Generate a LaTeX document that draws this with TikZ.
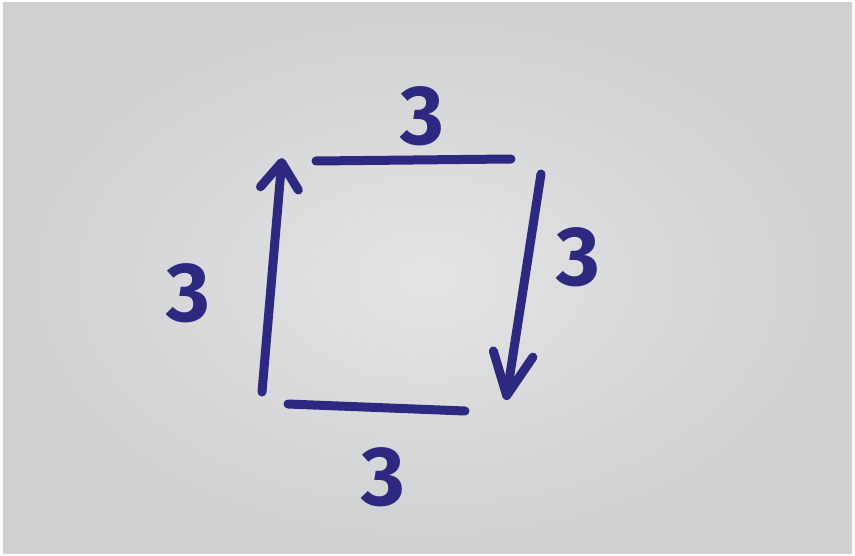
\documentclass[tikz,border=0pt]{standalone}
\usepackage{fontspec}
\setmainfont{Fira Sans}
\usetikzlibrary{arrows.meta}
\definecolor{ink}{HTML}{2D2880}
\definecolor{paperin}{HTML}{E4E4E6}
\definecolor{paperout}{HTML}{CFD0D2}
\tikzset{
  pen/.style={draw=ink, line width=9pt, line cap=round, line join=round},
  arr/.style={pen, -{Straight Barb[length=26pt, width=38pt, round]}},
  bigarr/.style={pen, -{Straight Barb[length=42pt, width=40pt, round]}},
  lbl/.style={text=ink, font=\bfseries\fontsize{84}{84}\selectfont, inner sep=0pt}
}
\begin{document}
\begin{tikzpicture}[x=1pt,y=-1pt]
\useasboundingbox (0,0) rectangle (855,556);
\fill[white] (0,0) rectangle (855,556);
\shade[inner color=paperin, outer color=paperout] (3,3) rectangle (852,553);
% endpoints
\coordinate (lb) at (262,392);
\coordinate (lt) at (282,158);
\coordinate (ta) at (316,161);
\coordinate (tb) at (511,159);
\coordinate (rt) at (541,174);
\coordinate (rb) at (506,400);
\coordinate (ba) at (288,404);
\coordinate (bb) at (465,411);
% strokes
\draw[arr] (lb) -- (lt);
\draw[pen] (ta) -- (tb);
\draw[bigarr] (rt) -- (rb);
\draw[pen] (ba) -- (bb);
% labels
\node[lbl] (ntop) at (422,116) {3};
\node[lbl] (nright) at (578,257) {3};
\node[lbl] (nleft) at (188,293) {3};
\node[lbl] (nbot) at (383,477) {3};
\end{tikzpicture}
\end{document}
